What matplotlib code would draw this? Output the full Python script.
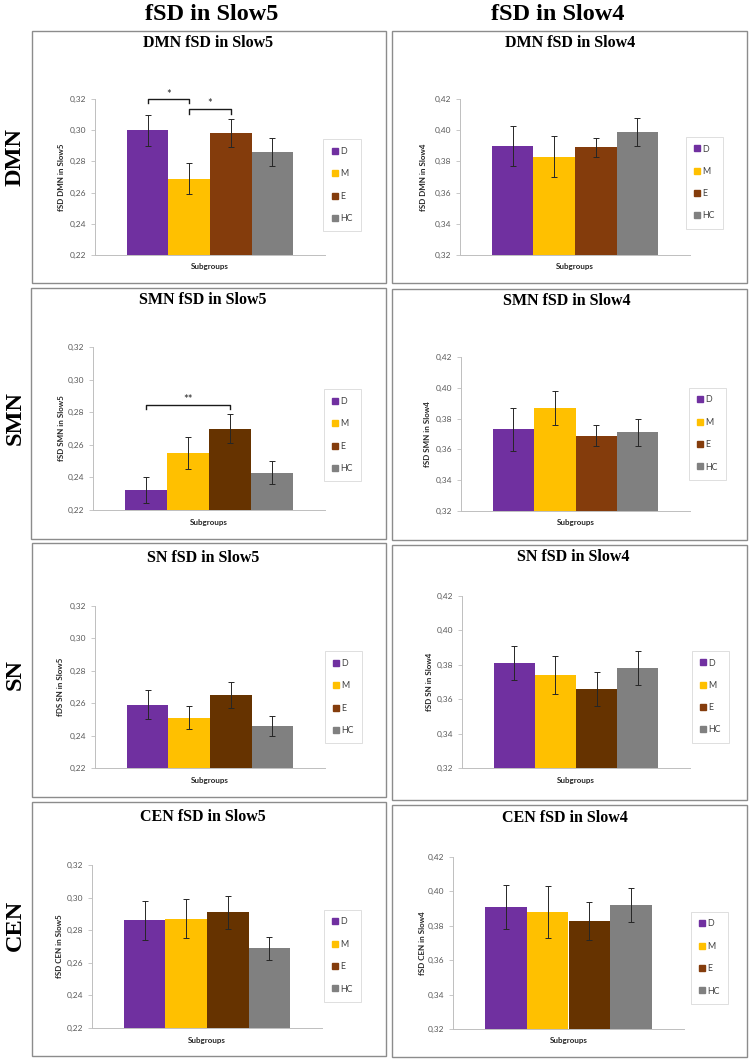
import matplotlib
matplotlib.use("Agg")
import matplotlib.pyplot as plt
from matplotlib.patches import Rectangle
from matplotlib.lines import Line2D
from matplotlib.ticker import FuncFormatter, MultipleLocator

# ---------------- data ----------------
groups = ["D", "M", "E", "HC"]
col_titles = ["fSD in Slow5", "fSD in Slow4"]
row_labels = ["DMN", "SMN", "SN", "CEN"]

dmn5 = [0.300, 0.269, 0.298, 0.286]
dmn5_err = [0.010, 0.010, 0.009, 0.009]
dmn4 = [0.390, 0.383, 0.389, 0.399]
dmn4_err = [0.013, 0.013, 0.006, 0.009]
smn5 = [0.232, 0.255, 0.270, 0.243]
smn5_err = [0.008, 0.010, 0.009, 0.007]
smn4 = [0.373, 0.387, 0.369, 0.371]
smn4_err = [0.014, 0.011, 0.007, 0.009]
sn5 = [0.259, 0.251, 0.265, 0.246]
sn5_err = [0.009, 0.007, 0.008, 0.006]
sn4 = [0.381, 0.374, 0.366, 0.378]
sn4_err = [0.010, 0.011, 0.010, 0.010]
cen5 = [0.286, 0.287, 0.291, 0.269]
cen5_err = [0.012, 0.012, 0.010, 0.007]
cen4 = [0.391, 0.388, 0.383, 0.392]
cen4_err = [0.013, 0.015, 0.011, 0.010]

panel_titles = ["DMN fSD in Slow5", "DMN fSD in Slow4",
                "SMN fSD in Slow5", "SMN fSD in Slow4",
                "SN fSD in Slow5", "SN fSD in Slow4",
                "CEN fSD in Slow5", "CEN fSD in Slow4"]
ylabels = ["fSD DMN in Slow5", "fSD DMN in Slow4",
           "fSD SMN in Slow5", "fSD SMN in Slow4",
           "fDS SN in Slow5", "fSD SN in Slow4",
           "fSD CEN in Slow5", "fSD CEN in Slow4"]
values = [dmn5, dmn4, smn5, smn4, sn5, sn4, cen5, cen4]
errors = [dmn5_err, dmn4_err, smn5_err, smn4_err, sn5_err, sn4_err, cen5_err, cen4_err]
slow5_range = (0.22, 0.32)
slow4_range = (0.32, 0.42)

# significance brackets: (panel, x0, x1, y_bar, y_tip, label, label_y)
brackets = [(0, 0, 1, 0.3202, 0.3174, "*", 0.3232),
            (0, 1, 2, 0.3138, 0.3106, "*", 0.3168),
            (2, 0, 2, 0.2845, 0.2820, "**", 0.2878)]

# ---------------- style ----------------
c_D, c_M, c_E, c_E2, c_HC = "#7030A0", "#FFC000", "#843C0C", "#663300", "#808080"
bar_colors = [
    [c_D, c_M, c_E, c_HC], [c_D, c_M, c_E, c_HC],
    [c_D, c_M, c_E2, c_HC], [c_D, c_M, c_E, c_HC],
    [c_D, c_M, c_E2, c_HC], [c_D, c_M, c_E2, c_HC],
    [c_D, c_M, c_E2, c_HC], [c_D, c_M, c_E2, c_HC],
]
legend_colors = [c_D, c_M, c_E, c_HC]

W, H = 750, 1061
fig = plt.figure(figsize=(7.5, 10.61), dpi=100)

def fx(x):
    return x / W

def fy(y):
    return 1 - y / H

serif = "Liberation Serif"
sans = "Lato"

# panel boxes (px): x0, y0, x1, y1
boxes = [(32, 31, 386, 283), (392, 31, 747, 283),
         (31, 288, 386, 539), (392, 289, 747, 540),
         (32, 543, 386, 797), (392, 545, 747, 800),
         (32, 802, 386, 1056), (392, 805, 747, 1057)]
# axes (px): left, right, top, bottom
axes_px = [(95, 325, 99, 255), (460, 690, 99, 255),
           (93, 325, 347, 510), (461, 690, 357, 511),
           (95, 325, 606, 768), (462, 690, 596, 768),
           (92, 322, 865, 1028), (453, 684, 857, 1029)]
# legend boxes (px): x0, x1, y0, y1
legends_px = [(317, 367, 143, 227), (680, 729, 143, 222),
              (318, 367, 394, 476), (683, 732, 394, 473),
              (319, 368, 657, 737), (687, 734, 657, 736),
              (318, 367, 916, 995), (690, 729, 918, 997)]
# title centres (px)
titles_px = [(208, 43), (570, 43), (203, 300), (567, 301),
             (203, 558), (573, 557), (203, 817), (565, 818)]
ylabel_x = [62, 424, 62, 427, 61, 430, 60, 423]

for i in range(8):
    x0, y0, x1, y1 = boxes[i]
    fig.patches.append(Rectangle((fx(x0), fy(y1)), fx(x1 - x0), (y1 - y0) / H,
                                 transform=fig.transFigure, fill=False,
                                 edgecolor="#8c8c8c", linewidth=1.0))
    l, r, t, b = axes_px[i]
    ax = fig.add_axes([fx(l), fy(b), fx(r - l), (b - t) / H])
    lo, hi = slow5_range if i % 2 == 0 else slow4_range
    xs = list(range(len(groups)))
    ax.bar(xs, values[i], width=1.0, color=bar_colors[i], bottom=0, zorder=2)
    ax.errorbar(xs, values[i], yerr=errors[i], fmt="none", ecolor="#262626",
                elinewidth=0.7, capsize=2.2, capthick=0.7, zorder=3)
    ax.set_ylim(lo, hi)
    ax.set_xlim(-1.27, 4.27)
    ax.yaxis.set_major_locator(MultipleLocator(0.02))
    ax.yaxis.set_major_formatter(FuncFormatter(lambda v, p: f"{v:.2f}".replace(".", ",")))
    ax.set_xticks([])
    for s in ["top", "right"]:
        ax.spines[s].set_visible(False)
    ax.spines["left"].set_color("#bfbfbf")
    ax.spines["bottom"].set_color("#bfbfbf")
    ax.spines["left"].set_linewidth(0.7)
    ax.spines["bottom"].set_linewidth(0.7)
    ax.tick_params(axis="y", length=3, width=0.6, color="#bfbfbf",
                   labelsize=6.0, labelcolor="#595959", pad=3)
    for lab in ax.get_yticklabels():
        lab.set_fontfamily(sans)
    ax.patch.set_alpha(0)

    # brackets
    for (p, bx0, bx1, yb, yt, txt, ty) in brackets:
        if p == i:
            ax.plot([bx0, bx0, bx1, bx1], [yt, yb, yb, yt], color="#1a1a1a",
                    linewidth=1.0, clip_on=False, zorder=4)
            ax.text((bx0 + bx1) / 2, ty, txt, ha="center", va="center",
                    fontsize=8, family=sans, color="#262626")

    # texts
    tx, ty_ = titles_px[i]
    fig.text(fx(tx), fy(ty_), panel_titles[i], ha="center", va="center",
             family=serif, fontweight="bold", fontsize=11.5)
    fig.text(fx(ylabel_x[i]), fy((t + b) / 2), ylabels[i], rotation=90,
             ha="center", va="center", family=sans, fontweight="bold",
             fontsize=5.8, color="#262626")
    fig.text(fx((l + r) / 2), fy(b + 12), "Subgroups", ha="center", va="center",
             family=sans, fontweight="bold", fontsize=5.8, color="#262626")

    # legend
    lx0, lx1, ly0, ly1 = legends_px[i]
    handles = [Line2D([], [], linestyle="none", marker="s", markersize=5,
                      markerfacecolor=c, markeredgecolor=c) for c in legend_colors]
    leg = ax.legend(handles, groups, loc="center",
                    bbox_to_anchor=(fx((lx0 + lx1) / 2), fy((ly0 + ly1) / 2)),
                    bbox_transform=fig.transFigure, frameon=True, fancybox=False,
                    edgecolor="#d9d9d9", framealpha=1, prop={"family": sans, "size": 6.4},
                    handlelength=0.8, handletextpad=0.2, labelspacing=1.5,
                    borderpad=0.9, borderaxespad=0)
    leg.get_frame().set_linewidth(0.6)
    for txt_ in leg.get_texts():
        txt_.set_color("#404040")

# column headers
fig.text(fx(212), fy(14), col_titles[0], ha="center", va="center",
         family=serif, fontweight="bold", fontsize=17.5)
fig.text(fx(558), fy(14), col_titles[1], ha="center", va="center",
         family=serif, fontweight="bold", fontsize=17.5)

# row labels
row_y = [157, 418, 675, 925]
for lab, yy in zip(row_labels, row_y):
    fig.text(fx(15), fy(yy), lab, rotation=90, ha="center", va="center",
             family=serif, fontweight="bold", fontsize=17.5)

fig.savefig("out.png", dpi=100)
